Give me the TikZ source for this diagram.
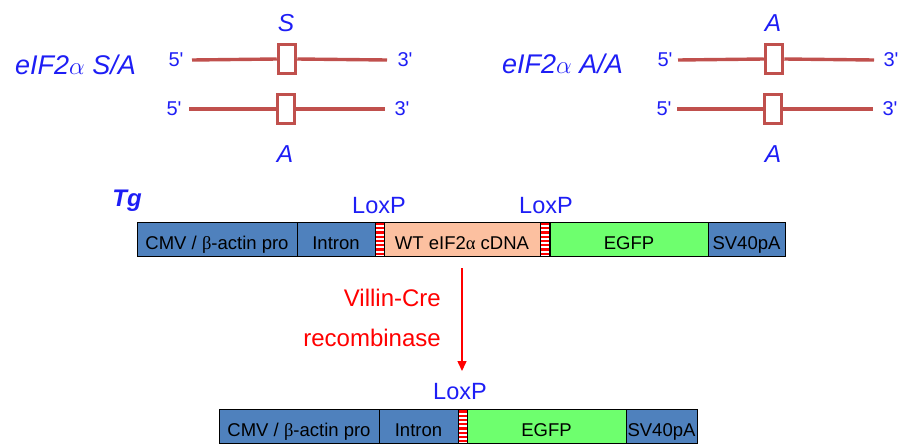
\documentclass[tikz,border=0pt]{standalone}
\usepackage{fontspec}
\setmainfont{Liberation Sans}
\newfontfamily\grk{Liberation Serif}
\usetikzlibrary{arrows.meta}
\definecolor{txtblue}{RGB}{30,30,245}
\definecolor{dnared}{RGB}{192,80,77}
\definecolor{blkblue}{RGB}{79,129,189}
\definecolor{peach}{RGB}{252,192,160}
\definecolor{gfp}{RGB}{110,255,110}
\definecolor{loxred}{RGB}{255,0,0}
\newcommand{\prm}{\XeTeXglyph\XeTeXcharglyph"27\relax}
\begin{document}
\begin{tikzpicture}[x=1pt,y=-1pt,
  title/.style={text=txtblue, font=\fontsize{27}{29}\selectfont\itshape, inner sep=0},
  allele/.style={text=txtblue, font=\fontsize{24.5}{26}\selectfont\itshape, inner sep=0},
  endlab/.style={text=txtblue, font=\fontsize{20}{22}\selectfont, inner sep=0},
  dnaline/.style={draw=dnared, line width=3.4pt},
  sitebox/.style={draw=dnared, line width=3pt, fill=white, minimum width=17.5pt, minimum height=29.5pt, inner sep=0},
  blk/.style={draw=black, line width=0.7pt, minimum height=34pt, inner sep=0, text height=22pt, text depth=2pt, font=\fontsize{18.5}{20}\selectfont, text=black},
  loxlab/.style={text=txtblue, font=\fontsize{23.5}{25}\selectfont, inner sep=0, anchor=base},
  lox/.style={draw=black, line width=0.7pt, fill=white, minimum width=9pt, minimum height=34pt, inner sep=0,
    path picture={\foreach \i in {0,...,7}{\fill[loxred] ([yshift=-\i*4.25pt-0.9pt]path picture bounding box.north west) rectangle ([yshift=-\i*4.25pt-3.2pt]path picture bounding box.north east);}}},
  crelab/.style={text=loxred, font=\fontsize{24}{26}\selectfont, inner sep=0, anchor=base east}
]
\useasboundingbox (0,0) rectangle (904,445);

% ---------- S/A allele ----------
\node[title, anchor=base west] (t1) at (15,74) {eIF2$\alpha$ S/A};
\node[allele, anchor=base] (s1) at (286,31) {S};
\node[allele, anchor=base] (a1) at (285,162) {A};
\node[endlab] (f1) at (176,60) {5\prm};
\node[endlab] (r1) at (405,60) {3\prm};
\node[endlab] (f2) at (174,109) {5\prm};
\node[endlab] (r2) at (402,109) {3\prm};
\coordinate (l1a) at (192,60);
\coordinate (l1b) at (387,60);
\coordinate (l2a) at (189,109);
\coordinate (l2b) at (385,109);
\node[sitebox] (b1) at (287,59) {};
\node[sitebox] (b2) at (286,109) {};
\draw[dnaline] (l1a) -- (b1.west);
\draw[dnaline] (b1.east) -- (l1b);
\draw[dnaline] (l2a) -- (b2.west);
\draw[dnaline] (b2.east) -- (l2b);

% ---------- A/A allele ----------
\node[title, anchor=base west] (t2) at (502,73) {eIF2$\alpha$ A/A};
\node[allele, anchor=base] (s2) at (773,31) {A};
\node[allele, anchor=base] (a2) at (773,162) {A};
\node[endlab] (f3) at (665,60) {5\prm};
\node[endlab] (r3) at (891,60) {3\prm};
\node[endlab] (f4) at (664,109) {5\prm};
\node[endlab] (r4) at (890,109) {3\prm};
\coordinate (l3a) at (678,60);
\coordinate (l3b) at (874,60);
\coordinate (l4a) at (677,109);
\coordinate (l4b) at (873,109);
\node[sitebox] (b3) at (774,59) {};
\node[sitebox] (b4) at (773,109) {};
\draw[dnaline] (l3a) -- (b3.west);
\draw[dnaline] (b3.east) -- (l3b);
\draw[dnaline] (l4a) -- (b4.west);
\draw[dnaline] (b4.east) -- (l4b);

% ---------- Tg construct ----------
\node[text=txtblue, font=\fontsize{24}{26}\selectfont\bfseries\itshape, inner sep=0, anchor=base] (tg) at (127,206) {Tg};
\node[loxlab] (lp1) at (379,213) {LoxP};
\node[loxlab] (lp2) at (546,213) {LoxP};
\node[blk, fill=blkblue, minimum width=160pt] (cmv) at (217,239) {CMV / {\grk β}-actin pro};
\node[blk, fill=blkblue, minimum width=78pt] (intr) at (336,239) {Intron};
\node[lox] (x1) at (379.5,239) {};
\node[blk, fill=peach, minimum width=156pt] (wt) at (462,239) {WT eIF2{\grk α} cDNA};
\node[lox] (x2) at (545,239) {};
\node[blk, fill=gfp, minimum width=158pt] (egfp) at (629,239) {EGFP};
\node[blk, fill=blkblue, minimum width=77pt] (sv) at (746.5,239) {SV40pA};

% ---------- recombination ----------
\node[crelab] (cre1) at (441,306) {Villin-Cre};
\node[crelab] (cre2) at (441,346) {recombinase};
\coordinate (arrS) at (462,268);
\coordinate (arrE) at (462,371);
\draw[loxred, line width=1.5pt, -{Triangle[width=9pt,length=10pt]}] (arrS) -- (arrE);

% ---------- recombined construct ----------
\node[loxlab] (lp3) at (460,399) {LoxP};
\node[blk, fill=blkblue, minimum width=160pt] (cmv2) at (299,426.5) {CMV / {\grk β}-actin pro};
\node[blk, fill=blkblue, minimum width=79pt] (intr2) at (418.5,426.5) {Intron};
\node[lox] (x3) at (462.5,426.5) {};
\node[blk, fill=gfp, minimum width=159pt] (egfp2) at (546.5,426.5) {EGFP};
\node[blk, fill=blkblue, minimum width=71pt] (sv2) at (661.5,426.5) {SV40pA};
\end{tikzpicture}
\end{document}
